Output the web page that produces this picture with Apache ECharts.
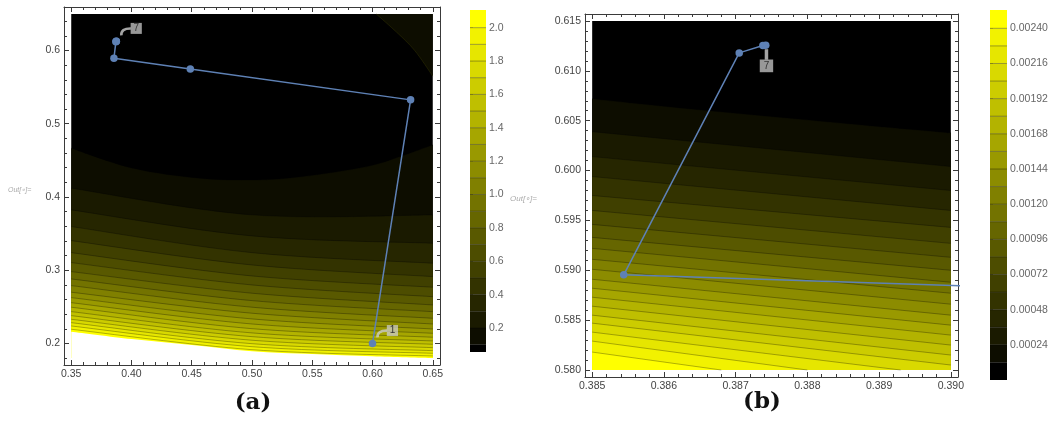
<!DOCTYPE html>
<html><head><meta charset="utf-8">
<script src="https://cdn.jsdelivr.net/npm/echarts@6/dist/echarts.min.js"></script>
<style>html,body{margin:0;padding:0;background:#fff}#c{width:1060px;height:422px}</style>
</head><body><div id="c"></div>
<script>
// ================= DATA =================
// Panel (a)
const aXTicks = [0.35, 0.40, 0.45, 0.50, 0.55, 0.60, 0.65];
const aYTicks = [0.2, 0.3, 0.4, 0.5, 0.6];
const aDomainX = [0.35, 0.65];
const aDomainY = [0.18, 0.65];
const aLevels = [0.1,0.2,0.3,0.4,0.5,0.6,0.7,0.8,0.9,1.0,1.1,1.2,1.3,1.4,1.5,1.6,1.7,1.8,1.9,2.0];
const aBarRange = [0.056, 2.106];
const aBarTicks = [0.2,0.4,0.6,0.8,1.0,1.2,1.4,1.6,1.8,2.0];
// contour lines (one list of [x, y] per level)
const aContours = [
  [[0.35,0.4667],[0.4012,0.4393],[0.4566,0.4257],[0.5022,0.4233],[0.5418,0.4279],[0.595,0.4415],[0.6227,0.4552],[0.65,0.4712]],
  [[0.35,0.412],[0.5,0.3756],[0.65,0.3755]],
  [[0.35,0.3824],[0.5,0.3469],[0.65,0.3369]],
  [[0.35,0.3596],[0.5,0.3240],[0.65,0.3096]],
  [[0.35,0.3404],[0.5,0.3072],[0.65,0.2913]],
  [[0.35,0.3240],[0.5,0.2922],[0.65,0.2768]],
  [[0.35,0.3104],[0.5,0.2799],[0.65,0.2639]],
  [[0.35,0.2981],[0.5,0.2686],[0.65,0.2526]],
  [[0.35,0.2881],[0.5,0.2585],[0.65,0.2434]],
  [[0.35,0.2790],[0.5,0.2495],[0.65,0.2344]],
  [[0.35,0.2700],[0.5,0.2413],[0.65,0.2266]],
  [[0.35,0.2626],[0.5,0.2335],[0.65,0.2198]],
  [[0.35,0.2557],[0.5,0.2266],[0.65,0.2139]],
  [[0.35,0.2495],[0.5,0.2202],[0.65,0.2085]],
  [[0.35,0.2435],[0.5,0.2144],[0.65,0.2034]],
  [[0.35,0.2380],[0.5,0.2093],[0.65,0.1989]],
  [[0.35,0.2330],[0.5,0.2044],[0.65,0.1943]],
  [[0.35,0.2284],[0.5,0.1997],[0.65,0.1902]],
  [[0.35,0.2239],[0.5,0.1956],[0.65,0.1866]],
  [[0.35,0.2194],[0.5,0.1915],[0.65,0.1829]]
];
// second piece of the lowest contour (top-right corner)
const aCornerContour = [[0.603,0.65],[0.62,0.625],[0.635,0.60],[0.65,0.565]];
// edge of the drawn region (white below)
const aWhiteEdge = [[0.35,0.216],[0.4,0.206],[0.45,0.198],[0.5,0.1895],[0.55,0.1855],[0.6,0.1825],[0.65,0.180]];

// Panel (b)
const bXTicks = [0.385, 0.386, 0.387, 0.388, 0.389, 0.390];
const bYTicks = [0.580, 0.585, 0.590, 0.595, 0.600, 0.605, 0.610, 0.615];
const bDomainX = [0.385, 0.390];
const bDomainY = [0.580, 0.615];
const bLevels = [0.00012,0.00024,0.00036,0.00048,0.00060,0.00072,0.00084,0.00096,0.00108,0.00120,
                 0.00132,0.00144,0.00156,0.00168,0.00180,0.00192,0.00204,0.00216,0.00228,0.00240];
const bBarRange = [0, 0.002525];
const bBarTicks = [0.00024,0.00048,0.00072,0.00096,0.00120,0.00144,0.00168,0.00192,0.00216,0.00240];
const bContours = [
  [[0.385,0.6072],[0.386,0.60645],[0.3869,0.60582],[0.3878,0.60522],[0.3888,0.60455],[0.390,0.60378]],
  [[0.385,0.6039],[0.390,0.6004]],
  [[0.385,0.6014],[0.390,0.5980]],
  [[0.385,0.5994],[0.390,0.5960]],
  [[0.385,0.5975],[0.390,0.5943]],
  [[0.385,0.5960],[0.390,0.5927]],
  [[0.385,0.5946],[0.390,0.5913]],
  [[0.385,0.5933],[0.390,0.5900]],
  [[0.385,0.5922],[0.390,0.5888]],
  [[0.385,0.5911],[0.390,0.5877]],
  [[0.385,0.5901],[0.390,0.5866]],
  [[0.385,0.5891],[0.390,0.5855]],
  [[0.385,0.5882],[0.390,0.5845]],
  [[0.385,0.5873],[0.390,0.5835]],
  [[0.385,0.5864],[0.390,0.5825]],
  [[0.385,0.5855],[0.390,0.5815]],
  [[0.385,0.5847],[0.390,0.5805]],
  [[0.385,0.5838],[0.3893,0.580]],
  [[0.385,0.5829],[0.3880,0.580]],
  [[0.385,0.5818],[0.3868,0.580]]
];

// Iteration path (shared by both panels)
const pathX = [0.6000, 0.6316, 0.4488, 0.38544, 0.38705, 0.38738, 0.38742];
const pathY = [0.2000, 0.5326, 0.5746, 0.58955, 0.6118, 0.61254, 0.61257];
const pathNames = ['1','2','3','4','5','6','7'];
const aCalloutIdx = [6, 0];
const bCalloutIdx = [6];

// ================= STYLE / HELPERS =================
const FONT = 'Liberation Sans';
const bandColor = k => { const v = Math.round(255 * k / 20); return 'rgb(' + v + ',' + v + ',0)'; };
const lineCol = 'rgba(0,0,0,0.33)';
function minorsOf(min, max, step) {
  const out = []; const n = Math.round((max - min) / step);
  for (let i = 0; i <= n; i++) out.push(+(min + i * step).toFixed(6));
  return out;
}
function frameAxes(grid, min, max, majors, minors, fmt, isX, margin) {
  const base = { gridIndex: grid, type: 'value', min: min, max: max, splitLine: { show: false }, z: 3 };
  const p1 = isX ? 'bottom' : 'left', p2 = isX ? 'top' : 'right';
  const frameLine = { show: true, onZero: false, lineStyle: { color: '#3a3a3a', width: 1 } };
  return [
    Object.assign({}, base, { position: p1, axisLine: frameLine,
      axisTick: { show: true, inside: true, length: 5, customValues: majors, lineStyle: { color: '#3a3a3a' } },
      axisLabel: { show: true, customValues: majors, formatter: fmt, color: '#444', fontSize: 10.5, fontFamily: FONT, margin: margin } }),
    Object.assign({}, base, { position: p1, axisLine: { show: false, onZero: false },
      axisTick: { show: true, inside: true, length: 3, customValues: minors, lineStyle: { color: '#3a3a3a' } },
      axisLabel: { show: false } }),
    Object.assign({}, base, { position: p2, axisLine: frameLine,
      axisTick: { show: true, inside: true, length: 5, customValues: majors, lineStyle: { color: '#3a3a3a' } },
      axisLabel: { show: false } }),
    Object.assign({}, base, { position: p2, axisLine: { show: false, onZero: false },
      axisTick: { show: true, inside: true, length: 3, customValues: minors, lineStyle: { color: '#3a3a3a' } },
      axisLabel: { show: false } })
  ];
}
// smooth (Catmull-Rom) path through pixel points
function curveD(px) {
  let d = 'M' + px[0][0] + ' ' + px[0][1];
  if (px.length < 3) { for (let i = 1; i < px.length; i++) d += ' L' + px[i][0] + ' ' + px[i][1]; return d; }
  for (let i = 0; i < px.length - 1; i++) {
    const p0 = px[i - 1] || px[i], p1 = px[i], p2 = px[i + 1], p3 = px[i + 2] || px[i + 1];
    const c1 = [p1[0] + (p2[0] - p0[0]) / 6, p1[1] + (p2[1] - p0[1]) / 6];
    const c2 = [p2[0] - (p3[0] - p1[0]) / 6, p2[1] - (p3[1] - p1[1]) / 6];
    d += ' C' + c1[0] + ' ' + c1[1] + ' ' + c2[0] + ' ' + c2[1] + ' ' + p2[0] + ' ' + p2[1];
  }
  return d;
}
function fillD(px, yb) {
  const last = px[px.length - 1], first = px[0];
  return curveD(px) + ' L' + last[0] + ' ' + yb + ' L' + first[0] + ' ' + yb + ' Z';
}

function contourSeries(xi, yi, domX, domY, contours, extraTop, whiteEdge) {
  return {
    type: 'custom', xAxisIndex: xi, yAxisIndex: yi, z: 1, silent: true,
    data: [[domX[0], domY[0]]],
    renderItem: function (params, api) {
      const P = p => api.coord(p);
      const yb = P([domX[0], domY[0]])[1];
      const kids = [];
      kids.push({ type: 'polygon', shape: { points: [[domX[0], domY[0]], [domX[1], domY[0]], [domX[1], domY[1]], [domX[0], domY[1]]].map(P) }, style: { fill: bandColor(0) } });
      if (extraTop) {
        const tr = P([domX[1], domY[1]]);
        kids.push({ type: 'path', shape: { pathData: curveD(extraTop.map(P)) + ' L' + tr[0] + ' ' + tr[1] + ' Z' }, style: { fill: bandColor(1) } });
      }
      contours.forEach((ln, i) => kids.push({ type: 'path', shape: { pathData: fillD(ln.map(P), yb) }, style: { fill: bandColor(i + 1) } }));
      if (whiteEdge) kids.push({ type: 'path', shape: { pathData: fillD(whiteEdge.map(P), yb) }, style: { fill: '#ffffff' } });
      contours.forEach(ln => kids.push({ type: 'path', shape: { pathData: curveD(ln.map(P)) }, style: { stroke: lineCol, lineWidth: 0.9, fill: null } }));
      if (extraTop) kids.push({ type: 'path', shape: { pathData: curveD(extraTop.map(P)) }, style: { stroke: 'rgba(60,60,0,0.5)', lineWidth: 0.8, fill: null } });
      return { type: 'group', children: kids };
    }
  };
}
function barSeries(xi, yi, levels, range) {
  return {
    type: 'custom', xAxisIndex: xi, yAxisIndex: yi, z: 1, silent: true,
    data: [[0, range[0]]],
    renderItem: function (params, api) {
      const kids = [];
      const edges = [range[0]].concat(levels).concat([range[1]]);
      for (let i = 0; i < edges.length - 1; i++) {
        const a = api.coord([0, edges[i]]), b = api.coord([1, edges[i + 1]]);
        kids.push({ type: 'rect', shape: { x: a[0], y: b[1], width: b[0] - a[0], height: a[1] - b[1] }, style: { fill: bandColor(i) } });
      }
      levels.forEach(lv => {
        const a = api.coord([0, lv]), b = api.coord([1, lv]);
        kids.push({ type: 'line', shape: { x1: a[0], y1: a[1], x2: b[0], y2: b[1] }, style: { stroke: 'rgba(0,0,0,0.35)', lineWidth: 1 } });
      });
      return { type: 'group', children: kids };
    }
  };
}
function pathSeries(xi, yi) {
  return {
    type: 'line', xAxisIndex: xi, yAxisIndex: yi, z: 5, silent: true, clip: true,
    data: pathX.map((x, i) => [x, pathY[i]]),
    symbol: 'circle', symbolSize: 7.5, showSymbol: true,
    lineStyle: { color: '#5E81B5', width: 1.5 }, itemStyle: { color: '#5E81B5' }
  };
}
function calloutSeries(xi, yi, idxs, below) {
  return {
    type: 'custom', xAxisIndex: xi, yAxisIndex: yi, z: 6, silent: true, clip: false,
    data: idxs.map(i => [pathX[i], pathY[i], i]),
    renderItem: function (params, api) {
      const p = api.coord([api.value(0), api.value(1)]);
      const txt = pathNames[api.value(2)];
      const boxFill = 'rgba(205,205,205,0.74)';
      if (below) {
        return { type: 'group', children: [
          { type: 'line', shape: { x1: p[0] + 0.7, y1: p[1] + 4, x2: p[0] + 0.7, y2: p[1] + 14.5 }, style: { stroke: 'rgba(205,205,205,0.8)', lineWidth: 3.5 } },
          { type: 'rect', shape: { x: p[0] - 6, y: p[1] + 14.3, width: 13.4, height: 12.7 }, style: { fill: boxFill } },
          { type: 'text', x: p[0] + 0.7, y: p[1] + 20.8, style: { text: txt, fill: '#333', font: '10px ' + FONT, align: 'center', verticalAlign: 'middle' } }
        ] };
      }
      return { type: 'group', children: [
        { type: 'bezierCurve', shape: { x1: p[0] + 5, y1: p[1] - 6, cpx1: p[0] + 4.5, cpy1: p[1] - 13, x2: p[0] + 14.5, y2: p[1] - 12.8 }, style: { stroke: 'rgba(205,205,205,0.8)', lineWidth: 2.6, fill: null } },
        { type: 'rect', shape: { x: p[0] + 14.3, y: p[1] - 18.4, width: 11.2, height: 11 }, style: { fill: boxFill } },
        { type: 'text', x: p[0] + 19.9, y: p[1] - 12.8, style: { text: txt, fill: '#333', font: '10px ' + FONT, align: 'center', verticalAlign: 'middle' } }
      ] };
    }
  };
}

// ================= OPTION =================
const grids = [
  { left: 64, top: 7, width: 376, height: 358 },     // 0: panel a
  { left: 585, top: 14, width: 373, height: 363 },   // 1: panel b
  { left: 470, top: 10, width: 16, height: 342 },    // 2: bar a
  { left: 990, top: 10, width: 17, height: 370 }     // 3: bar b
];
const xAxes = [].concat(
  frameAxes(0, 0.344, 0.656, aXTicks, minorsOf(0.35, 0.65, 0.01), v => v.toFixed(2), true, 4),
  frameAxes(1, 0.3849, 0.3901, bXTicks, minorsOf(0.385, 0.390, 0.0002), v => v.toFixed(3), true, 4),
  [{ gridIndex: 2, type: 'value', min: 0, max: 1, show: false },
   { gridIndex: 3, type: 'value', min: 0, max: 1, show: false }]
);
const barAxis = (grid, range, ticks, fmt) => ({
  gridIndex: grid, type: 'value', min: range[0], max: range[1], position: 'right',
  axisLine: { show: false }, splitLine: { show: false },
  axisTick: { show: true, inside: false, length: 3, customValues: ticks, lineStyle: { color: '#888' } },
  axisLabel: { show: true, customValues: ticks, formatter: fmt, color: '#666', fontSize: 10.5, fontFamily: FONT, margin: 3 }
});
const yAxes = [].concat(
  frameAxes(0, 0.1706, 0.6594, aYTicks, minorsOf(0.18, 0.64, 0.02), v => v.toFixed(1), false, 4),
  frameAxes(1, 0.5793, 0.6157, bYTicks, minorsOf(0.580, 0.615, 0.001), v => v.toFixed(3), false, 4),
  [barAxis(2, aBarRange, aBarTicks, v => v.toFixed(1)),
   barAxis(3, bBarRange, bBarTicks, v => v.toFixed(5))]
);

const option = {
  backgroundColor: '#ffffff',
  animation: false,
  grid: grids,
  xAxis: xAxes,
  yAxis: yAxes,
  series: [
    contourSeries(0, 0, aDomainX, aDomainY, aContours, aCornerContour, aWhiteEdge),
    pathSeries(0, 0),
    calloutSeries(0, 0, aCalloutIdx, false),
    contourSeries(4, 4, bDomainX, bDomainY, bContours, null, null),
    pathSeries(4, 4),
    calloutSeries(4, 4, bCalloutIdx, true),
    barSeries(8, 8, aLevels, aBarRange),
    barSeries(9, 9, bLevels, bBarRange)
  ],
  graphic: [
    { type: 'text', left: 8, top: 187, style: { text: 'Out[\u2218]=', fill: '#aaa', font: 'italic 7px ' + FONT } },
    { type: 'text', left: 510, top: 195, style: { text: 'Out[\u2218]=', fill: '#aaa', font: 'italic 8px ' + FONT } },
    { type: 'text', x: 253, y: 403, style: { text: '(a)', fill: '#111', font: 'bold 23px "DejaVu Serif"', align: 'center', verticalAlign: 'middle' } },
    { type: 'text', x: 762, y: 402, style: { text: '(b)', fill: '#111', font: 'bold 23px "DejaVu Serif"', align: 'center', verticalAlign: 'middle' } }
  ]
};
const chart = echarts.init(document.getElementById('c'), null, { renderer: 'canvas', width: 1060, height: 422 });
chart.setOption(option);
</script>
</body></html>
